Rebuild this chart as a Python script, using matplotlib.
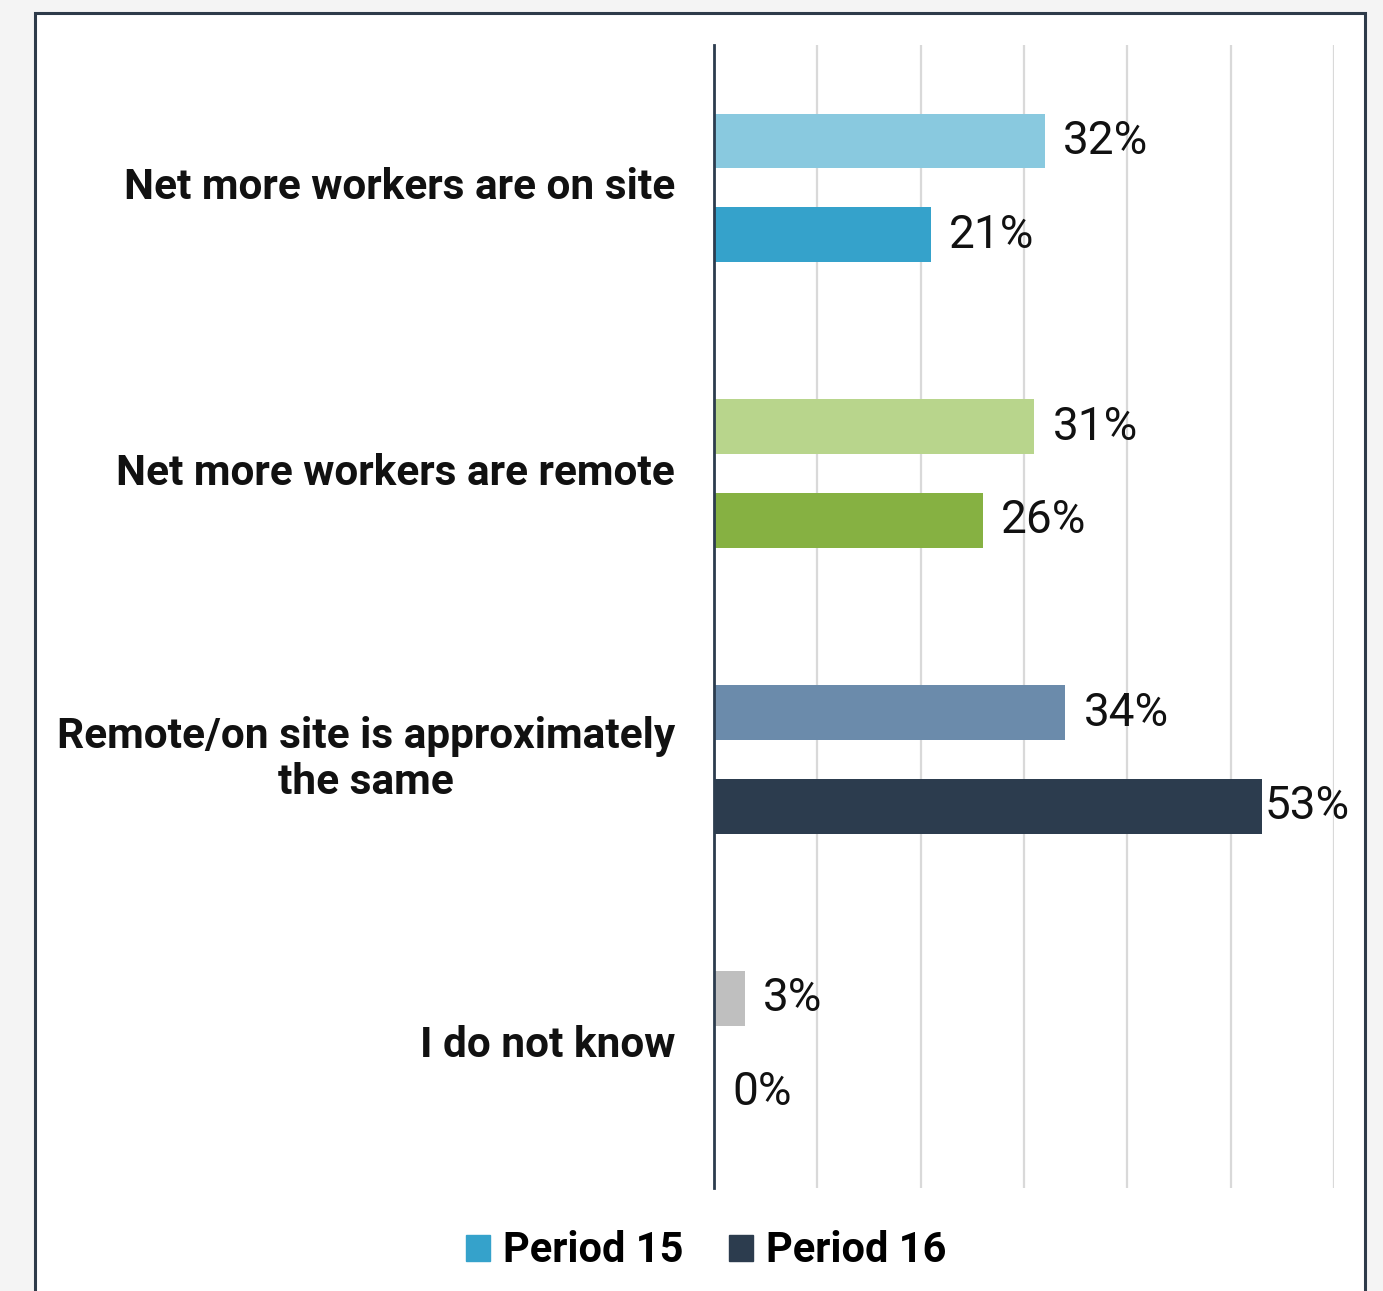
import numpy as np
import matplotlib
matplotlib.use("Agg")
import matplotlib.pyplot as plt
from matplotlib.patches import Rectangle, Patch

plt.rcParams['font.family'] = ['Roboto', 'DejaVu Sans']

# survey answers, two periods
categories = ['Net more workers are on site',
              'Net more workers are remote',
              'Remote/on site is approximately\nthe same',
              'I do not know']
period15 = [32, 31, 34, 3]
period16 = [21, 26, 53, 0]
series_names = ['Period 15', 'Period 16']

col15 = ['#89c9df', '#b8d58c', '#6b8bab', '#bfbfbf']
col16 = ['#35a2cb', '#86b142', '#2c3c4e', '#bfbfbf']
legend_cols = ['#35a2cb', '#2c3c4e']

W, H = 1383, 1291
fig = plt.figure(figsize=(W/100, H/100), dpi=100, facecolor='#f4f4f4')

# white panel with dark frame
fig.patches.append(Rectangle((35/W, -0.05), 1330/W, 1.05 - 13/H, transform=fig.transFigure,
                             facecolor='white', edgecolor='#2e3b4a', linewidth=2.2, zorder=-1))

ax = fig.add_axes([714/W, 1-1188/H, 620/W, 1143/H])
ax.set_facecolor('none')

y = np.arange(len(categories))
off = 0.164
bh = 0.192
ax.barh(y - off, period15, height=bh, color=col15, zorder=3)
ax.barh(y + off, period16, height=bh, color=col16, zorder=3)

for yy, v in zip(y - off, period15):
    ax.annotate(f'{v}%', (v, yy), xytext=(13 if v < 50 else 2, 0), textcoords='offset points',
                ha='left', va='center', fontsize=33, color='#111111')
for yy, v in zip(y + off, period16):
    ax.annotate(f'{v}%', (v, yy), xytext=(13 if v < 50 else 2, 0), textcoords='offset points',
                ha='left', va='center', fontsize=33, color='#111111')

ax.set_xlim(0, 60)
ax.set_ylim(len(categories) - 0.5, -0.5)
ax.set_xticks(np.arange(0, 61, 10))
ax.xaxis.grid(True, color='#d9d9d9', linewidth=1.6, zorder=0)
ax.tick_params(axis='x', length=0, labelbottom=False)
ax.tick_params(axis='y', length=0, pad=28)
ax.set_yticks(y)
ax.set_yticklabels(categories, fontsize=30.5, fontweight='bold', color='#111111',
                   multialignment='center', linespacing=1.15)
for lab in ax.get_yticklabels():
    lab.set_va('center')
for s in ['top', 'right', 'bottom']:
    ax.spines[s].set_visible(False)
ax.spines['left'].set_color('#2c3c4e')
ax.spines['left'].set_linewidth(2.0)
ax.spines['left'].set_zorder(4)

handles = [Patch(color=c, label=n) for c, n in zip(legend_cols, series_names)]
fig.legend(handles=handles, loc='center', bbox_to_anchor=(706/W, 1-1251/H), ncol=2,
           frameon=False, prop={'size': 30, 'weight': 'bold'},
           handlelength=0.58, handleheight=0.58, handletextpad=0.3, columnspacing=1.1)

fig.savefig('out.png', dpi=100, facecolor=fig.get_facecolor())
